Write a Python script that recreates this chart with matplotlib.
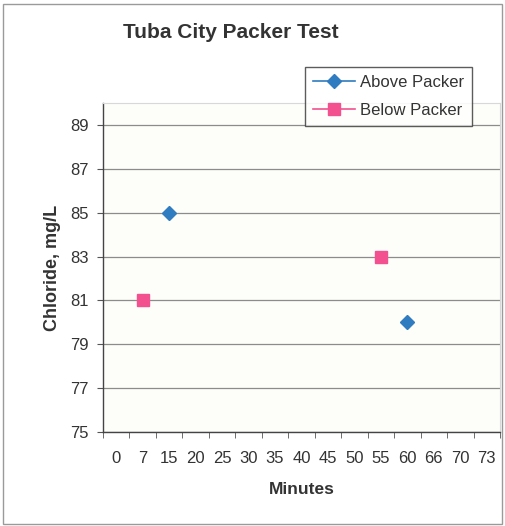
import numpy as np
import matplotlib
matplotlib.use("Agg")
import matplotlib.pyplot as plt
from matplotlib.patches import Rectangle

plt.rcParams['font.family'] = ['Liberation Sans', 'DejaVu Sans']

minutes = ["0", "7", "15", "20", "25", "30", "35", "40", "45", "50", "55", "60", "66", "70", "73"]
above_packer = [np.nan, np.nan, 85, np.nan, np.nan, np.nan, np.nan, np.nan, np.nan, np.nan, np.nan, 80, np.nan, np.nan, np.nan]
below_packer = [np.nan, 81, np.nan, np.nan, np.nan, np.nan, np.nan, np.nan, np.nan, np.nan, 83, np.nan, np.nan, np.nan, np.nan]
y_ticks = [75, 77, 79, 81, 83, 85, 87, 89]

blue = '#2f7cc0'
pink = '#f2508e'
text_col = '#333333'

fig = plt.figure(figsize=(5.05, 5.26), dpi=100)
fig.patch.set_facecolor('white')

# outer chart frame
fig.patches.append(Rectangle((3 / 505, 2 / 526), 499 / 505, 520 / 526,
                             transform=fig.transFigure, fill=False,
                             edgecolor='#9a9a9a', linewidth=1.0))

ax = fig.add_axes([103 / 505, 1 - 432 / 526, 397 / 505, 329 / 526])
ax.set_facecolor('#fdfdf9')
x = np.arange(len(minutes))

ax.plot(x, above_packer, color=blue, marker='D', markersize=7, linewidth=1.2,
        label='Above Packer')
ax.plot(x, below_packer, color=pink, marker='s', markersize=8, linewidth=1.2,
        label='Below Packer')

ax.set_xlim(-0.5, len(minutes) - 0.5)
ax.set_ylim(75, 90)
ax.set_yticks(y_ticks)
ax.set_yticklabels([str(v) for v in y_ticks], fontsize=12, color=text_col)
ax.set_xticks(x)
ax.set_xticklabels(minutes, fontsize=12, color=text_col)
ax.tick_params(axis='x', which='major', length=0, pad=14)
ax.set_xticks(np.arange(-0.5, len(minutes), 1.0), minor=True)
ax.tick_params(axis='x', which='minor', length=4, direction='out', color='#555555')
ax.tick_params(axis='y', length=4, direction='out', color='#555555', pad=6)

ax.grid(axis='y', color='#8c8c8c', linewidth=0.9)
ax.set_axisbelow(True)

for side in ['left', 'bottom']:
    ax.spines[side].set_color('#444444')
    ax.spines[side].set_linewidth(1.0)
for side in ['top', 'right']:
    ax.spines[side].set_color('#d8d8d8')
    ax.spines[side].set_linewidth(0.8)

ax.set_xlabel('Minutes', fontsize=12.5, fontweight='bold', color=text_col, labelpad=11)
ax.set_ylabel('Chloride, mg/L', fontsize=13, fontweight='bold', color=text_col, labelpad=7)

fig.text(231 / 505, 1 - 33 / 526, 'Tuba City Packer Test', ha='center', va='center',
         fontsize=15, fontweight='bold', color=text_col)

leg = ax.legend(loc='upper left', bbox_to_anchor=(305 / 505, 1 - 67 / 526),
                bbox_transform=fig.transFigure, fontsize=12, frameon=True,
                fancybox=False, edgecolor=text_col, handlelength=2.5,
                borderpad=0.5, borderaxespad=0, labelspacing=0.75, handletextpad=0.3)
leg.get_frame().set_linewidth(1.0)
leg.get_frame().set_facecolor('white')
for t in leg.get_texts():
    t.set_color(text_col)

fig.savefig('out.png', dpi=100)
